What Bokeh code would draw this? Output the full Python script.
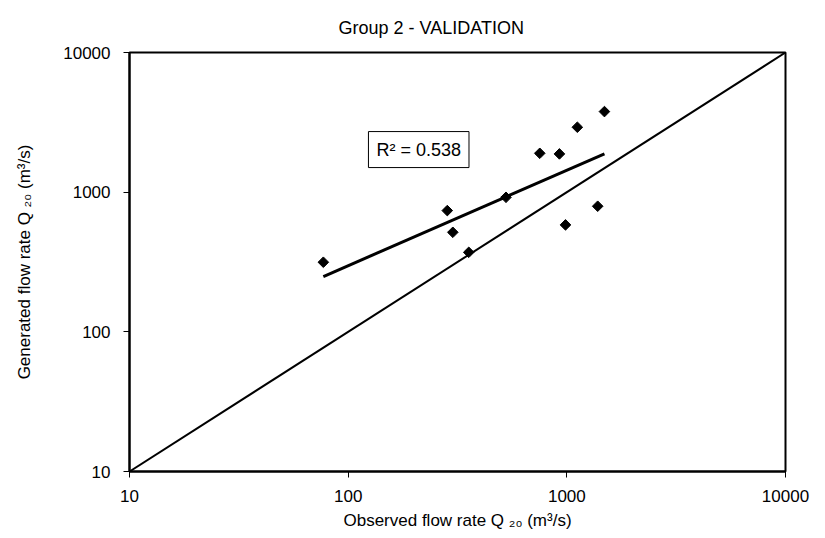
import numpy as np
from bokeh.plotting import figure
from bokeh.models import Range1d, FixedTicker, Label
from bokeh.embed import file_html
from bokeh.resources import INLINE

# ---- data ----
observed = [77, 284, 301, 356, 527, 752, 925, 986, 1117, 1384, 1486]
generated = [315, 738, 516, 371, 919, 1898, 1879, 583, 2917, 793, 3776]
tick_values = [10, 100, 1000, 10000]
tick_labels = ["10", "100", "1000", "10000"]
identity_line = [10, 10000]
r2_text = "R\u00b2 = 0.538"
title_text = "Group 2 - VALIDATION"
x_title = "Observed flow rate Q \u2082\u2080 (m\u00b3/s)"
y_title = "Generated flow rate Q \u2082\u2080 (m\u00b3/s)"

FONT = "Liberation Sans"

# power trend line fitted on the data (straight line on log-log axes)
lx = np.log10(observed)
ly = np.log10(generated)
slope, intercept = np.polyfit(lx, ly, 1)
trend_x = [min(observed), max(observed)]
trend_y = [10 ** (intercept + slope * np.log10(v)) for v in trend_x]

p = figure(width=825, height=538,
           x_axis_type="log", y_axis_type="log",
           x_range=Range1d(10, 10000), y_range=Range1d(10, 10000),
           output_backend="svg", toolbar_location=None,
           min_border_left=129, min_border_right=40,
           min_border_top=52, min_border_bottom=67,
           title=title_text)

p.background_fill_color = "white"
p.border_fill_color = "white"
p.outline_line_color = "black"
p.outline_line_width = 2
p.grid.visible = False

p.title.align = "left"
p.title.offset = 209
p.title.text_font = FONT
p.title.text_font_size = "18px"
p.title.text_font_style = "normal"
p.title.text_color = "black"
p.title.standoff = 30

for ax in (p.xaxis[0], p.yaxis[0]):
    ax.ticker = FixedTicker(ticks=tick_values, minor_ticks=[])
    ax.major_label_overrides = {v: s for v, s in zip(tick_values, tick_labels)}
    ax.axis_line_color = "black"
    ax.axis_line_width = 2
    ax.major_tick_line_color = "black"
    ax.major_tick_line_width = 1
    ax.major_tick_out = 6
    ax.major_tick_in = 0
    ax.minor_tick_line_color = None
    ax.major_label_text_font = FONT
    ax.major_label_text_font_size = "17px"
    ax.major_label_text_color = "black"
    ax.axis_label_text_font = FONT
    ax.axis_label_text_font_size = "17px"
    ax.axis_label_text_font_style = "normal"
    ax.axis_label_text_color = "black"

p.xaxis[0].axis_label = x_title
p.yaxis[0].axis_label = y_title
p.xaxis[0].major_label_standoff = 12
p.xaxis[0].axis_label_standoff = 6
p.yaxis[0].major_label_standoff = 13
p.yaxis[0].axis_label_standoff = 26

# 1:1 line
p.line(identity_line, identity_line, line_color="black", line_width=2)
# trend line
p.line(trend_x, trend_y, line_color="black", line_width=3)
# points (diamonds)
p.scatter(observed, generated, marker="square", angle=np.pi / 4,
          size=7.5, fill_color="black", line_color="black")

r2 = Label(x=123.8, y=1500, text=r2_text, text_baseline="bottom",
           text_font=FONT, text_font_size="18px", text_color="black",
           border_line_color="black", border_line_width=1,
           background_fill_color="white", padding=8)
p.add_layout(r2)

open("out.html", "w").write(file_html(p, INLINE))
